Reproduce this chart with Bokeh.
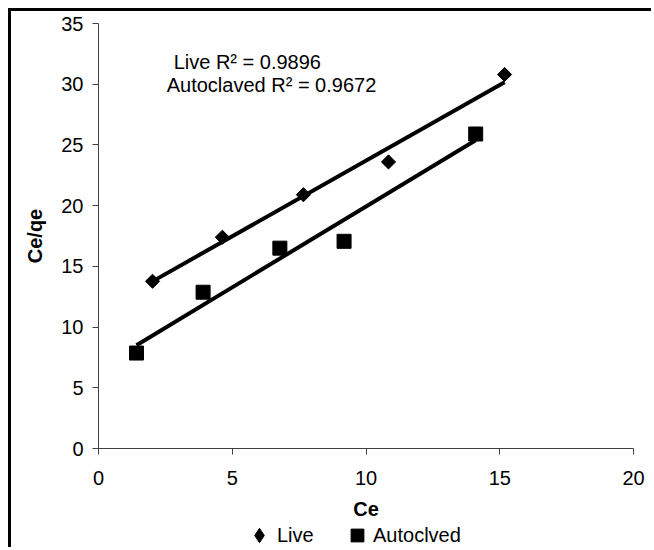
import numpy as np
from bokeh.plotting import figure
from bokeh.layouts import column
from bokeh.models import Legend, LegendItem, Label, Range1d, FixedTicker
from bokeh.embed import file_html
from bokeh.resources import INLINE

# data
live_ce = [2.02, 4.63, 7.66, 10.84, 15.18]
live_ceqe = [13.77, 17.4, 20.9, 23.6, 30.8]
auto_ce = [1.42, 3.91, 6.78, 9.18, 14.1]
auto_ceqe = [7.86, 12.87, 16.5, 17.06, 25.9]
x_ticks = [0, 5, 10, 15, 20]
y_ticks = [0, 5, 10, 15, 20, 25, 30, 35]
series_names = ["Live", "Autoclved"]
r2_live = "Live R\u00b2 = 0.9896"
r2_auto = "Autoclaved R\u00b2 = 0.9672"

FONT = "Liberation Sans"
FS = "20px"

p = figure(width=643, height=511, output_backend="svg", toolbar_location=None,
           x_range=Range1d(0, 20), y_range=Range1d(0, 35),
           min_border_left=87, min_border_right=21, min_border_top=12, min_border_bottom=73)
p.margin = (8, 0, 0, 8)
p.styles = {"border-left": "3px solid black", "border-top": "3px solid black"}
p.outline_line_color = None
p.xgrid.visible = False
p.ygrid.visible = False
p.background_fill_color = "white"
p.border_fill_color = "white"

for ax in (p.xaxis[0], p.yaxis[0]):
    ax.axis_line_color = "#404040"
    ax.major_tick_line_color = "#404040"
    ax.major_tick_out = 6
    ax.major_tick_in = 0
    ax.minor_tick_line_color = None
    ax.major_label_text_font = FONT
    ax.major_label_text_font_size = FS
    ax.major_label_text_color = "black"
    ax.axis_label_text_font = FONT
    ax.axis_label_text_font_size = FS
    ax.axis_label_text_font_style = "bold"
    ax.axis_label_text_color = "black"

p.xaxis[0].ticker = FixedTicker(ticks=x_ticks)
p.yaxis[0].ticker = FixedTicker(ticks=y_ticks)
p.xaxis[0].axis_label = "Ce"
p.yaxis[0].axis_label = "Ce/qe"
p.xaxis[0].major_label_standoff = 16
p.yaxis[0].major_label_standoff = 9
p.xaxis[0].axis_label_standoff = 10
p.yaxis[0].axis_label_standoff = 12

# trend lines (least squares from data)
for xs, ys in ((live_ce, live_ceqe), (auto_ce, auto_ceqe)):
    m, b = np.polyfit(xs, ys, 1)
    x0, x1 = min(xs), max(xs)
    p.line([x0, x1], [m * x0 + b, m * x1 + b], line_color="black", line_width=4)

p.scatter(live_ce, live_ceqe, marker="square", size=10, angle=np.pi / 4,
          fill_color="black", line_color="black")
p.scatter(auto_ce, auto_ceqe, marker="square", size=14,
          fill_color="black", line_color="black")

p.add_layout(Label(x=2.81, y=31.85, text=r2_live, text_align="left", text_baseline="middle",
                   text_font=FONT, text_font_size=FS, text_color="black"))
p.add_layout(Label(x=2.55, y=29.93, text=r2_auto, text_align="left", text_baseline="middle",
                   text_font=FONT, text_font_size=FS, text_color="black"))

# legend strip below the chart (key glyphs only, no plotted points)
p2 = figure(width=643, height=28, output_backend="svg", toolbar_location=None,
            x_range=Range1d(0, 1), y_range=Range1d(0, 1),
            x_axis_location=None, y_axis_location=None,
            min_border_left=0, min_border_right=0, min_border_top=0, min_border_bottom=0)
p2.margin = (0, 0, 0, 8)
p2.styles = {"border-left": "3px solid black"}
p2.outline_line_color = None
p2.grid.visible = False
p2.background_fill_color = "white"
p2.border_fill_color = "white"

k_live = p2.scatter([np.nan], [np.nan], marker="diamond", fill_color="black", line_color="black")
k_auto = p2.scatter([np.nan], [np.nan], marker="square", fill_color="black", line_color="black")

common = dict(orientation="horizontal", padding=0, margin=0, spacing=0, label_standoff=0,
              label_text_font=FONT, label_text_font_size=FS, label_text_color="black",
              background_fill_alpha=0, border_line_color=None)
leg_live = Legend(items=[LegendItem(label=series_names[0], renderers=[k_live])],
                  location=(143, -6), glyph_width=36, glyph_height=36, label_height=36, **common)
leg_auto = Legend(items=[LegendItem(label=series_names[1], renderers=[k_auto])],
                  location=(243, -4), glyph_width=32, glyph_height=32, label_height=32, **common)
p2.add_layout(leg_live, "center")
p2.add_layout(leg_auto, "center")

layout = column(p, p2, spacing=0)
open("out.html", "w").write(file_html(layout, INLINE))
